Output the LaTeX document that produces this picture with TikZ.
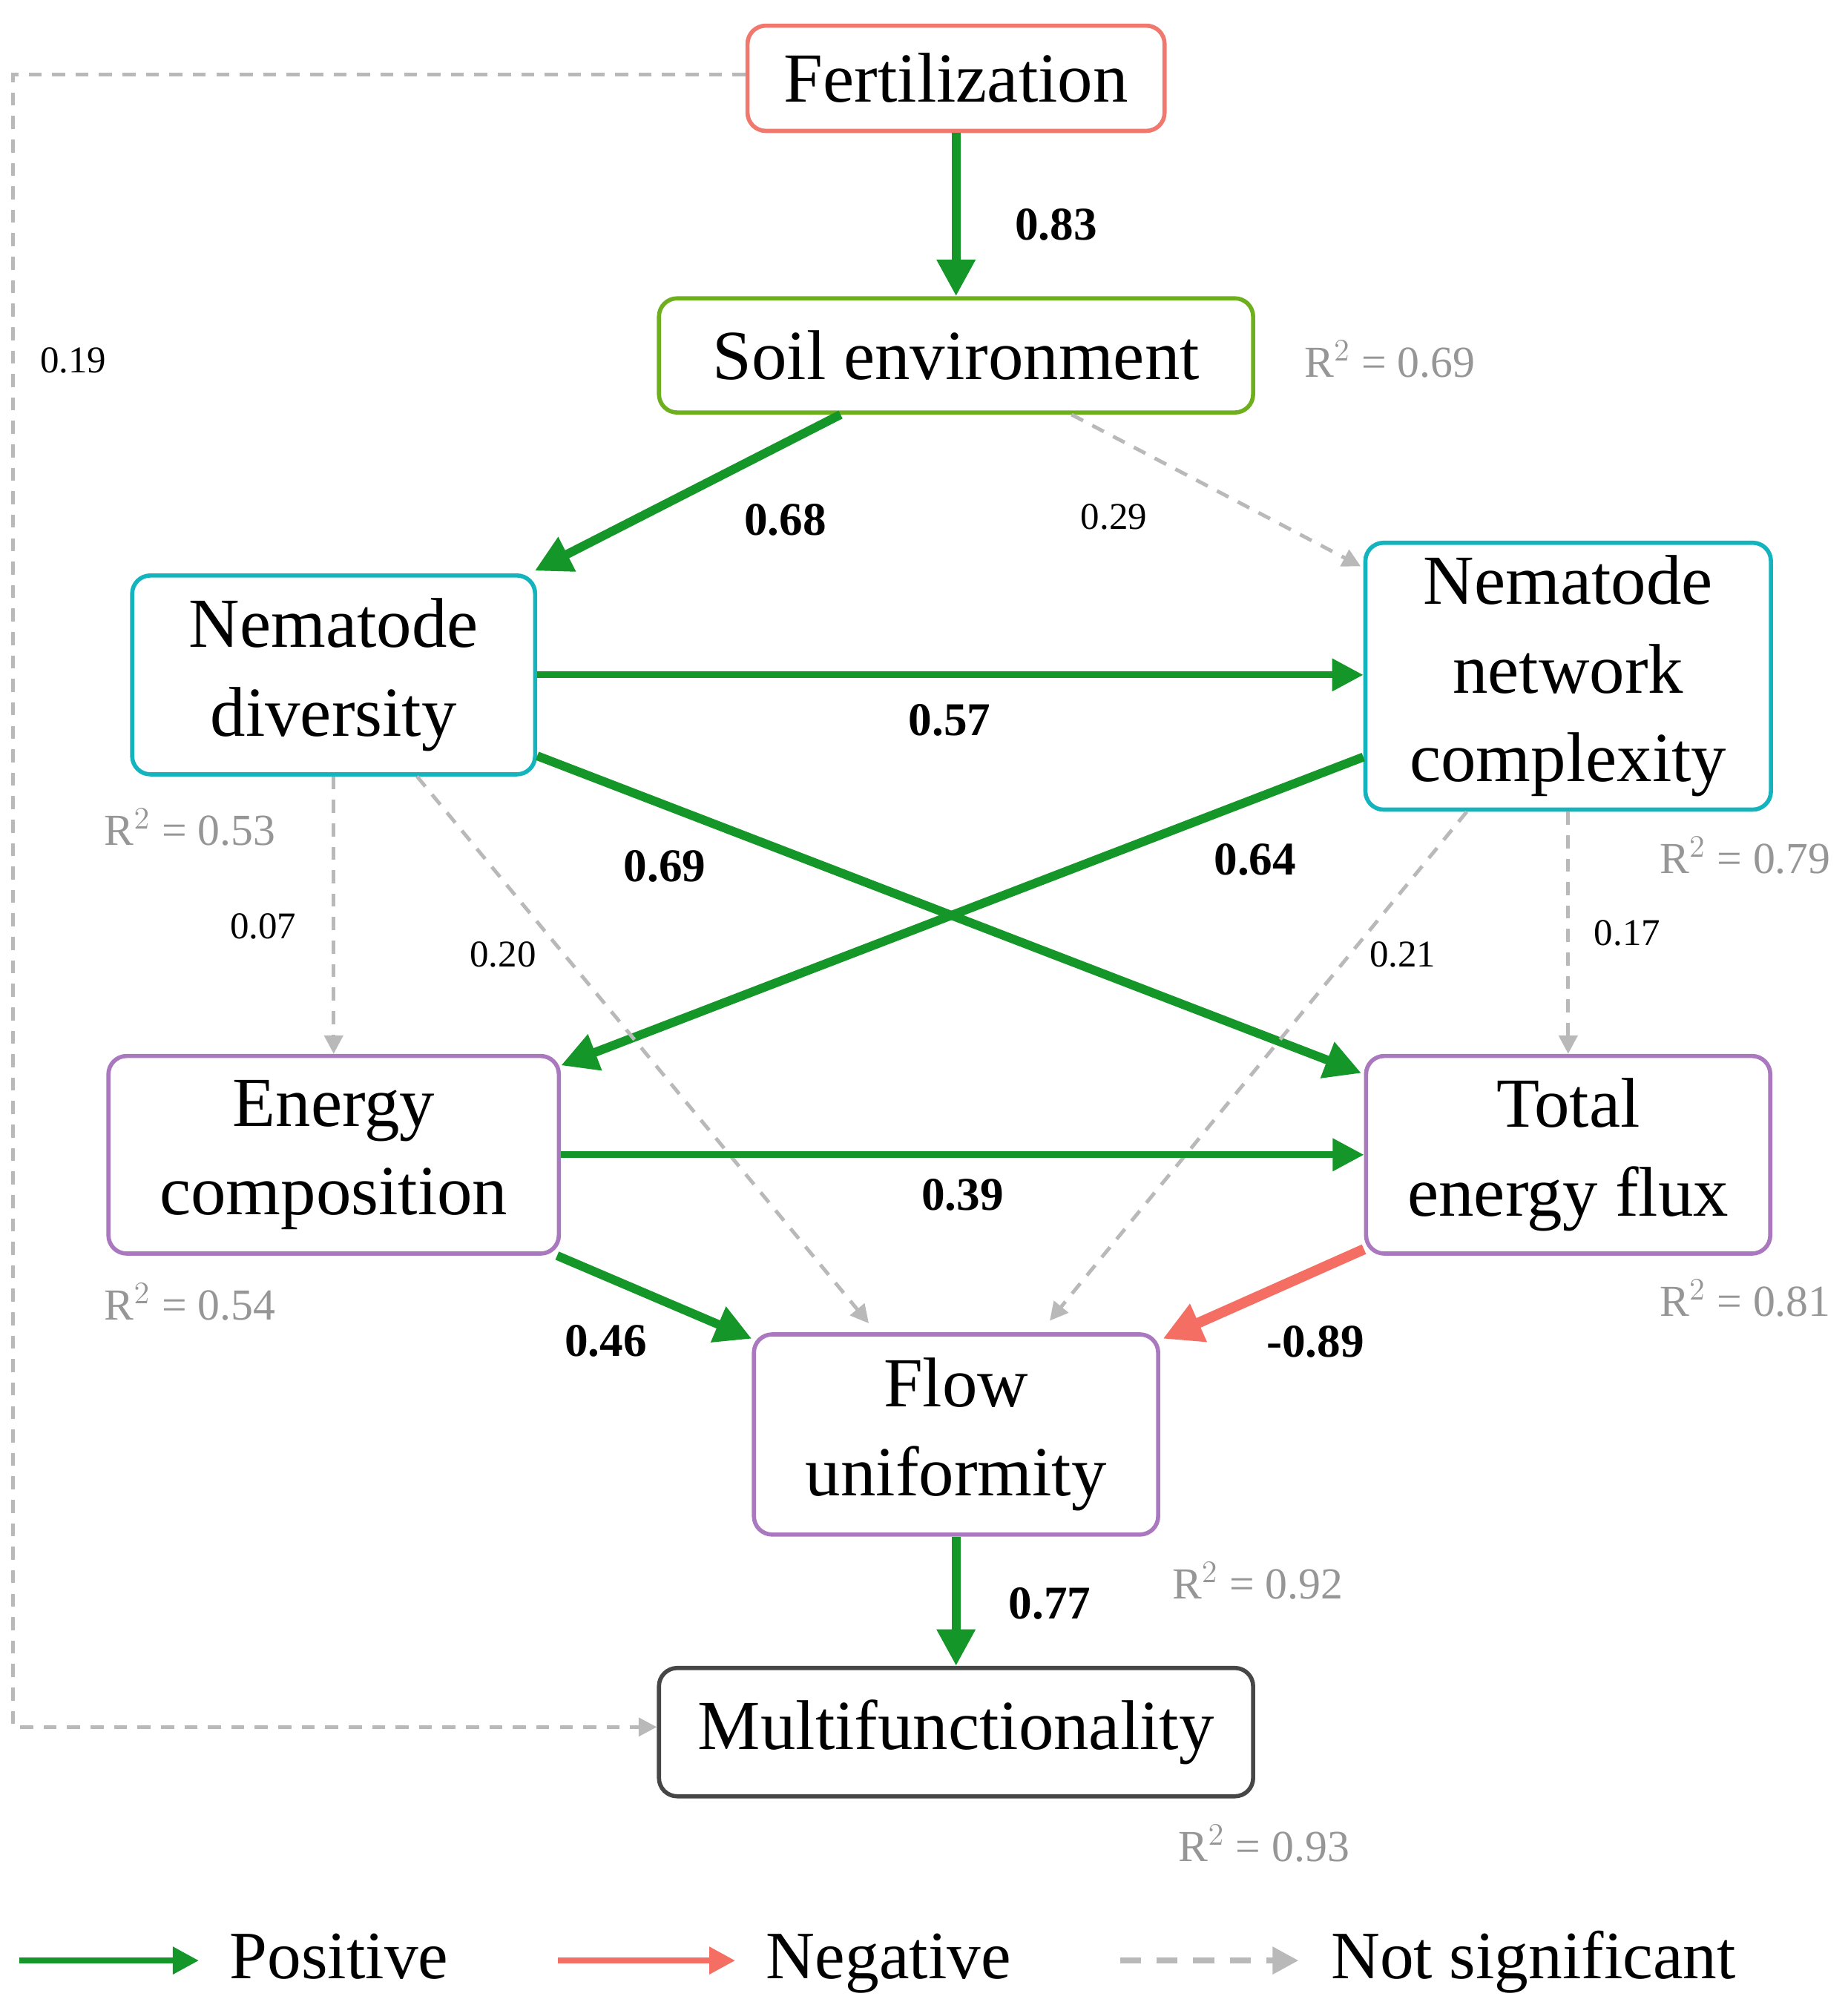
\documentclass[tikz,border=0pt]{standalone}
\usepackage{fontspec}
\setmainfont{Liberation Serif}
\usetikzlibrary{arrows.meta,calc}
\definecolor{pg}{RGB}{20,150,40}
\definecolor{ng}{RGB}{245,110,100}
\definecolor{nsc}{RGB}{185,185,185}
\definecolor{cf}{RGB}{240,120,110}
\definecolor{cs}{RGB}{110,175,30}
\definecolor{ct}{RGB}{20,180,190}
\definecolor{cp}{RGB}{170,120,190}
\definecolor{cm}{RGB}{70,70,70}
\definecolor{rg}{RGB}{150,150,150}
\begin{document}
\begin{tikzpicture}[x=0.0173cm,y=-0.0173cm,
 box/.style={draw,line width=1.6pt,rounded corners=7pt,inner sep=0pt,align=center,font=\fontsize{27}{34}\selectfont},
 parr/.style={draw=pg,line width=3.4pt,-{Triangle[length=14pt,width=14pt]}},
 parrh/.style={draw=pg,line width=2.6pt,-{Triangle[length=12pt,width=12pt]}},
 narr/.style={draw=ng,line width=4pt,-{Triangle[length=15pt,width=15pt]}},
 sarr/.style={draw=nsc,line width=1.4pt,dash pattern=on 5pt off 4pt,-{Triangle[length=7pt,width=7pt]}},
 bl/.style={font=\fontsize{18}{20}\selectfont\bfseries},
 sl/.style={font=\fontsize{14.5}{16}\selectfont},
 r2/.style={text=rg,font=\fontsize{17}{19}\selectfont}]
\useasboundingbox (0,0) rectangle (1440,1558);
\node[box,draw=cf,minimum width=325*0.0173cm,minimum height=82*0.0173cm] (fert) at (745,61) {Fertilization};
\node[box,draw=cs,minimum width=463*0.0173cm,minimum height=89*0.0173cm] (soil) at (745,277) {Soil environment};
\node[box,draw=ct,minimum width=314*0.0173cm,minimum height=155*0.0173cm] (nd) at (260,526) {Nematode\\diversity};
\node[box,draw=ct,minimum width=316*0.0173cm,minimum height=208*0.0173cm] (nnc) at (1222,527) {Nematode\\network\\complexity};
\node[box,draw=cp,minimum width=351*0.0173cm,minimum height=154*0.0173cm] (ec) at (260,900) {Energy\\composition};
\node[box,draw=cp,minimum width=315*0.0173cm,minimum height=154*0.0173cm] (tef) at (1222,900) {Total\\energy flux};
\node[box,draw=cp,minimum width=315*0.0173cm,minimum height=156*0.0173cm] (fu) at (745,1118) {Flow\\uniformity};
\node[box,draw=cm,minimum width=463*0.0173cm,minimum height=100*0.0173cm] (mf) at (745,1350) {Multifunctionality};

\draw[parr] (fert) -- (soil);
\draw[parr] ($(soil.south)+(-90,0)$) -- ($(nd.north east)+(-2,-2)$);
\draw[sarr] ($(soil.south)+(90,0)$) -- ($(nnc.north west)+(-2,20)$);
\draw[parrh] (nd.east|-nd) -- (nnc.west|-nd);
\draw[parr] ($(nd.south east)+(0,-16)$) -- ($(tef.north west)+(-2,15)$);
\draw[parr] ($(nnc.west)+(0,63)$) -- ($(ec.north east)+(0,9)$);
\draw[sarr] (nd.south) -- (ec.north);
\draw[sarr] ($(nd.south)+(65,0)$) -- ($(fu.north)+(-68,-7)$);
\draw[sarr] ($(nnc.south)+(-79,0)$) -- ($(fu.north)+(73,-9)$);
\draw[sarr] (nnc.south) -- (tef.north);
\draw[parrh] (ec) -- (tef);
\draw[parr] ($(ec.south east)+(-3,0)$) -- ($(fu.north west)+(0,5)$);
\draw[narr] ($(tef.south west)+(0,-5)$) -- ($(fu.north east)+(2,5)$);
\draw[parr] (fu) -- (mf);
\draw[sarr] ($(fert.west)+(0,-3)$) -- (10,58) -- (10,1346) -- (mf.west|-0,1346);

\node[bl] at (823,175) {0.83};
\node[bl] at (612,405) {0.68};
\node[sl] at (868,403) {0.29};
\node[bl] at (740,561) {0.57};
\node[bl] at (518,675) {0.69};
\node[bl] at (978,670) {0.64};
\node[sl] at (205,722) {0.07};
\node[sl] at (392,744) {0.20};
\node[sl] at (1093,744) {0.21};
\node[sl] at (1268,727) {0.17};
\node[bl] at (750,931) {0.39};
\node[bl] at (472,1045) {0.46};
\node[bl] at (1025,1046) {-0.89};
\node[bl] at (818,1250) {0.77};
\node[sl] at (57,281) {0.19};

\node[r2] at (1083,280) {R$^2$ = 0.69};
\node[r2] at (148,645) {R$^2$ = 0.53};
\node[r2] at (1360,667) {R$^2$ = 0.79};
\node[r2] at (148,1015) {R$^2$ = 0.54};
\node[r2] at (1360,1012) {R$^2$ = 0.81};
\node[r2] at (980,1232) {R$^2$ = 0.92};
\node[r2] at (985,1437) {R$^2$ = 0.93};

\coordinate (l1a) at (15,1528); \coordinate (l1b) at (155,1528);
\coordinate (l2a) at (435,1528); \coordinate (l2b) at (573,1528);
\coordinate (l3a) at (873,1528); \coordinate (l3b) at (1012,1528);
\draw[draw=pg,line width=2.4pt,-{Triangle[length=10pt,width=10pt]}] (l1a) -- (l1b);
\draw[draw=ng,line width=2.4pt,-{Triangle[length=10pt,width=10pt]}] (l2a) -- (l2b);
\draw[draw=nsc,line width=2.4pt,dash pattern=on 8pt off 6pt,-{Triangle[length=10pt,width=10pt]}] (l3a) -- (l3b);
\node[font=\fontsize{26}{30}\selectfont,anchor=base west] at (172,1542) {Positive};
\node[font=\fontsize{26}{30}\selectfont,anchor=base west] at (590,1542) {Negative};
\node[font=\fontsize{26}{30}\selectfont,anchor=base west] at (1030,1542) {Not significant};
\end{tikzpicture}
\end{document}
